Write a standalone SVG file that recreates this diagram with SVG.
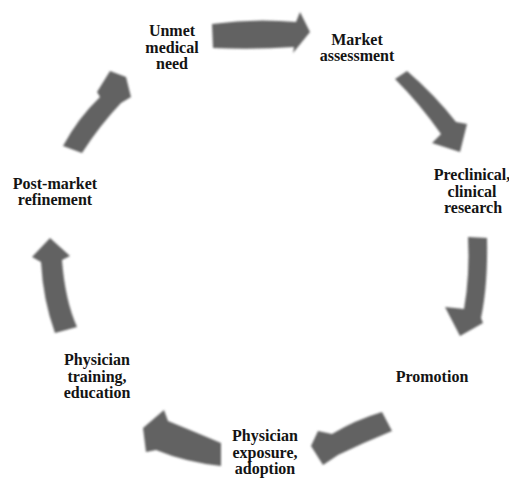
<svg xmlns="http://www.w3.org/2000/svg" width="509" height="485" viewBox="0 0 509 485">
  <style>
    .label { font-family: "Liberation Serif", "Times New Roman", serif; font-weight: bold; font-size: 16px; fill: #141414; text-anchor: middle; }
    .arrow { fill: #626262; filter: url(#soft); }
  </style>
  <defs>
    <filter id="soft" x="-10%" y="-10%" width="120%" height="120%">
      <feGaussianBlur stdDeviation="1.1"/>
    </filter>
  </defs>
  <rect width="509" height="485" fill="#ffffff"/>

  <!-- curved block arrows around the cycle -->
  <g id="connectors">
    <path class="arrow" d="M212,24 Q254,18 296,22 L300,12 L310,32 L293,53 L294,47 Q254,50 213,48 Z"/>
    <path class="arrow" d="M395,79 L407,71 Q435,95 456,122 L467,124 L460,152 L432,143 L441,134 Q420,104 395,79 Z"/>
    <path class="arrow" d="M468,237 L487,238 Q488,285 481,318 L483,323 L460,336 L445,307 L464,309 Q470,275 468,237 Z"/>
    <path class="arrow" d="M382,412 L392,431 Q365,442 338,455 L323,465 L311,446 L318,431 L332,434 Q355,420 382,412 Z"/>
    <path class="arrow" d="M221,443 L221,466 Q185,462 156,450 L146,452 L143,428 L164,410 L168,421 Q195,432 221,443 Z"/>
    <path class="arrow" d="M55,333 Q43,300 41,262 L32,257 L50,238 L70,256 L62,260 Q65,300 77,327 Z"/>
    <path class="arrow" d="M63,146 Q78,118 100,97 L97,92 L110,71 L126,77 L131,97 L121,103 Q100,125 82,153 Z"/>
  </g>

  <g id="unmet-need">
    <text class="label" x="172" y="36">Unmet</text>
    <text class="label" x="172" y="52.5">medical</text>
    <text class="label" x="172" y="69">need</text>
  </g>
  <g id="market-assessment">
    <text class="label" x="357" y="45">Market</text>
    <text class="label" x="357" y="61">assessment</text>
  </g>
  <g id="research">
    <text class="label" x="472" y="180">Preclinical,</text>
    <text class="label" x="472" y="196.5">clinical</text>
    <text class="label" x="473" y="213">research</text>
  </g>
  <g id="promotion">
    <text class="label" x="432" y="382">Promotion</text>
  </g>
  <g id="exposure-adoption">
    <text class="label" x="265" y="441">Physician</text>
    <text class="label" x="265" y="457.5">exposure,</text>
    <text class="label" x="265" y="474">adoption</text>
  </g>
  <g id="training-education">
    <text class="label" x="97" y="365">Physician</text>
    <text class="label" x="97" y="381.5">training,</text>
    <text class="label" x="97" y="398">education</text>
  </g>
  <g id="post-market">
    <text class="label" x="55" y="189">Post-market</text>
    <text class="label" x="55" y="205">refinement</text>
  </g>
</svg>
